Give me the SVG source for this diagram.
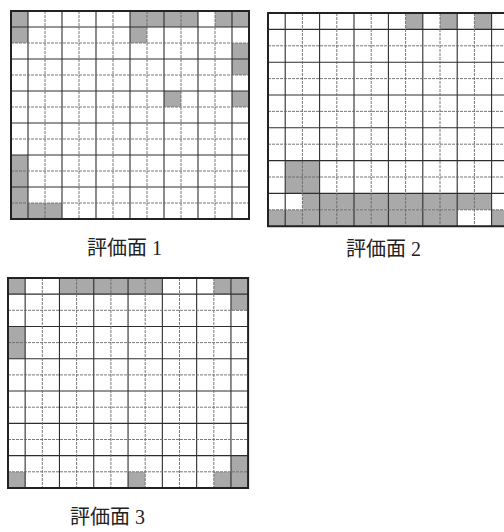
<svg xmlns="http://www.w3.org/2000/svg" xmlns:xlink="http://www.w3.org/1999/xlink" width="504" height="532" viewBox="0 0 504 532">
<style>
.c{fill:#a9a9a9}
.s{stroke:#2e2e2e;stroke-width:1.1;fill:none}
.d{stroke:#6a6a6a;stroke-width:0.9;fill:none;stroke-dasharray:3 1}
.b{stroke:#222;stroke-width:2;fill:none}
.lbl{font-family:"Liberation Serif","Noto Sans CJK JP",serif;font-size:20px;fill:#222}
</style>
<defs>
<g id="gridlines">
<path class="s" vector-effect="non-scaling-stroke" d="M1 0V13M3 0V13M5 0V13M7 0V13M9 0V13M11 0V13M13 0V13M0 1H14M0 3H14M0 5H14M0 7H14M0 9H14M0 11H14"/>
<path class="d" vector-effect="non-scaling-stroke" d="M2 0V13M4 0V13M6 0V13M8 0V13M10 0V13M12 0V13M0 2H14M0 4H14M0 6H14M0 8H14M0 10H14M0 12H14"/>
<rect class="b" vector-effect="non-scaling-stroke" x="0" y="0" width="14" height="13"/>
</g>
</defs>
<rect width="504" height="532" fill="#fff"/>
<g id="grid1" transform="translate(11,11) scale(17,16)">
<rect class="c" x="0" y="0" width="1" height="2"/>
<rect class="c" x="7" y="0" width="4" height="1"/>
<rect class="c" x="12" y="0" width="2" height="1"/>
<rect class="c" x="7" y="1" width="1" height="1"/>
<rect class="c" x="13" y="2" width="1" height="2"/>
<rect class="c" x="9" y="5" width="1" height="1"/>
<rect class="c" x="13" y="5" width="1" height="1"/>
<rect class="c" x="0" y="9" width="1" height="4"/>
<rect class="c" x="1" y="12" width="2" height="1"/>
<use href="#gridlines"/>
</g>
<g id="grid2" transform="translate(268,13) scale(17.2,16.4)">
<rect class="c" x="8" y="0" width="1" height="1"/>
<rect class="c" x="10" y="0" width="1" height="1"/>
<rect class="c" x="12" y="0" width="1" height="1"/>
<rect class="c" x="1" y="9" width="2" height="2"/>
<rect class="c" x="2" y="11" width="11" height="1"/>
<rect class="c" x="0" y="12" width="11" height="1"/>
<rect class="c" x="13" y="12" width="1" height="1"/>
<use href="#gridlines"/>
</g>
<g id="grid3" transform="translate(8,278) scale(17.15,16.15)">
<rect class="c" x="0" y="0" width="1" height="1"/>
<rect class="c" x="3" y="0" width="6" height="1"/>
<rect class="c" x="12" y="0" width="2" height="1"/>
<rect class="c" x="13" y="1" width="1" height="1"/>
<rect class="c" x="0" y="3" width="1" height="2"/>
<rect class="c" x="13" y="11" width="1" height="1"/>
<rect class="c" x="0" y="12" width="1" height="1"/>
<rect class="c" x="7" y="12" width="1" height="1"/>
<rect class="c" x="12" y="12" width="2" height="1"/>
<use href="#gridlines"/>
</g>
<g id="labels">
<text class="lbl" x="87" y="255">評価面 1</text>
<text class="lbl" x="346" y="256">評価面 2</text>
<text class="lbl" x="70" y="524">評価面 3</text>
</g>
</svg>
